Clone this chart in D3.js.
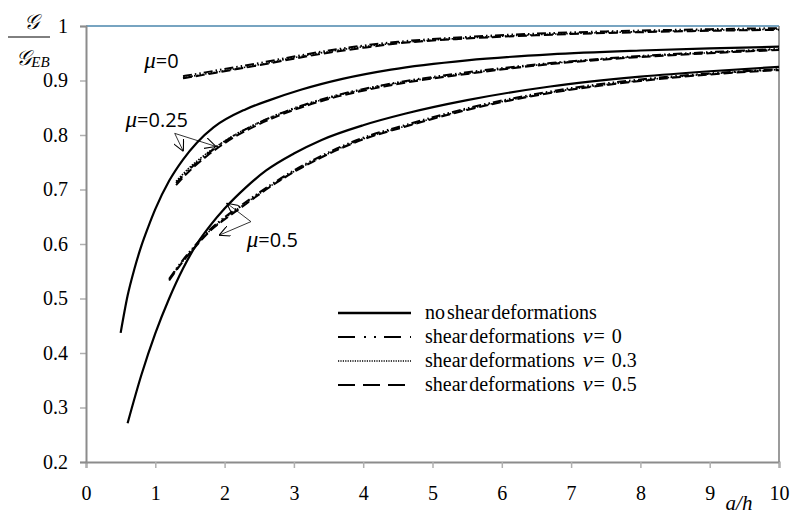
<!DOCTYPE html>
<html>
<head>
<meta charset="utf-8">
<script src="https://cdn.jsdelivr.net/npm/d3@7"></script>
<style>
  body { margin: 0; background: #fff; }
  svg { display: block; }
  .serif { font-family: "Liberation Serif", "Times New Roman", Times, serif; }
  .sans { font-family: "Open Sans", "Liberation Sans", Arial, sans-serif; }
</style>
</head>
<body>
<svg></svg>
<script>
const W = 792, H = 515;
const margin = { top: 26, right: 13, bottom: 53, left: 86 };

// no shear deformations (solid)
const xSolid25 = [0.5, 0.6, 0.7, 0.8, 0.9, 1.0, 1.2, 1.4, 1.6, 1.84, 2.3, 2.65, 3.1, 3.7, 4.4, 5.5, 6.7, 8, 9, 10];
const ySolid25 = [0.437, 0.505, 0.555, 0.597, 0.632, 0.664, 0.716, 0.755, 0.786, 0.814, 0.847, 0.864, 0.883, 0.903, 0.92, 0.937, 0.948, 0.955, 0.959, 0.962];
const xSolid50 = [0.6, 0.8, 1.0, 1.2, 1.4, 1.6, 1.8, 2.0, 2.3, 2.6, 3.0, 3.4, 4.0, 4.6, 5.5, 6.7, 8, 9, 10];
const ySolid50 = [0.271, 0.36, 0.436, 0.5, 0.555, 0.6, 0.635, 0.665, 0.703, 0.735, 0.766, 0.791, 0.818, 0.839, 0.864, 0.889, 0.907, 0.917, 0.925];

// shear deformations, mu = 0
const xShear0 = [1.4, 2, 2.5, 3, 3.5, 4, 4.5, 5.5, 6.5, 7.5, 8.5, 10];
const yShear0nu0 = [0.908, 0.921, 0.932, 0.944, 0.955, 0.964, 0.971, 0.980, 0.986, 0.990, 0.993, 0.996];
const yShear0nu3 = [0.905, 0.918, 0.929, 0.942, 0.953, 0.962, 0.969, 0.978, 0.984, 0.988, 0.991, 0.994];
const yShear0nu5 = [0.904, 0.917, 0.928, 0.940, 0.951, 0.960, 0.968, 0.977, 0.983, 0.987, 0.990, 0.993];

// shear deformations, mu = 0.25
const xShear25 = [1.3, 1.5, 1.75, 2, 2.5, 3, 3.5, 4.3, 5.5, 6.7, 8, 9, 10];
const yShear25nu0 = [0.712, 0.738, 0.765, 0.788, 0.823, 0.849, 0.869, 0.892, 0.915, 0.932, 0.945, 0.952, 0.958];
const yShear25nu3 = [0.715, 0.741, 0.767, 0.789, 0.823, 0.848, 0.868, 0.891, 0.913, 0.931, 0.944, 0.951, 0.957];
const yShear25nu5 = [0.708, 0.735, 0.762, 0.785, 0.820, 0.846, 0.866, 0.889, 0.912, 0.930, 0.943, 0.950, 0.956];

// shear deformations, mu = 0.5
const xShear50 = [1.2, 1.4, 1.6, 1.8, 2, 2.25, 2.6, 3, 3.4, 4, 4.6, 5.5, 6.7, 8, 9, 10];
const yShear50nu0 = [0.536, 0.571, 0.601, 0.628, 0.649, 0.672, 0.703, 0.735, 0.762, 0.795, 0.818, 0.849, 0.880, 0.902, 0.913, 0.921];
const yShear50nu3 = [0.535, 0.569, 0.599, 0.626, 0.647, 0.670, 0.701, 0.733, 0.760, 0.793, 0.816, 0.847, 0.878, 0.900, 0.912, 0.920];
const yShear50nu5 = [0.533, 0.568, 0.598, 0.625, 0.645, 0.668, 0.700, 0.732, 0.759, 0.792, 0.815, 0.846, 0.877, 0.899, 0.911, 0.919];

const xTicks = [0, 1, 2, 3, 4, 5, 6, 7, 8, 9, 10];
const yTicks = [0.2, 0.3, 0.4, 0.5, 0.6, 0.7, 0.8, 0.9, 1];
const legendLabels = ["no shear deformations", "shear deformations", "shear deformations", "shear deformations"];
const legendNu = [null, "0", "0.3", "0.5"];

const dashNu0 = "9,3,1.5,3,1.5,3";
const dashNu3 = "1.5,1.3";
const dashNu5 = "9,4";

const svg = d3.select("svg").attr("width", W).attr("height", H);

const x = d3.scaleLinear().domain([0, 10]).range([margin.left, W - margin.right]);
const y = d3.scaleLinear().domain([0.2, 1]).range([H - margin.bottom, margin.top]);

// frame
svg.append("line")
  .attr("x1", x(0)).attr("x2", x(10)).attr("y1", y(1)).attr("y2", y(1))
  .attr("stroke", "#4a86ad").attr("stroke-width", 1.5);
svg.append("line")
  .attr("x1", x(10)).attr("x2", x(10)).attr("y1", y(1)).attr("y2", y(0.2))
  .attr("stroke", "#7a7a7a").attr("stroke-width", 1.5);

// x axis
const xAxis = svg.append("g").attr("transform", `translate(0,${y(0.2)})`);
xAxis.call(d3.axisBottom(x).tickValues(d3.range(0.5, 10, 1)).tickSize(-5).tickFormat(""))
  .call(g => g.selectAll(".tick line").attr("stroke", "#b0b0b0"));
xAxis.call(d3.axisBottom(x).tickValues(xTicks).tickSize(6).tickFormat(d3.format("d")))
  .attr("font-family", null)
  .call(g => g.select(".domain").attr("stroke", "#8c8c8c").attr("stroke-width", 2))
  .call(g => g.selectAll(".tick line").attr("stroke", "#b0b0b0").attr("stroke-width", 1.5))
  .call(g => g.selectAll(".tick text")
    .attr("class", "serif")
    .attr("dy", "1.45em")
    .attr("font-size", 20).attr("fill", "#000"));

// y axis
const yAxis = svg.append("g").attr("transform", `translate(${x(0)},0)`);
yAxis.call(d3.axisLeft(y).tickValues(d3.range(0.25, 1, 0.1)).tickSize(-5).tickFormat(""))
  .call(g => g.selectAll(".tick line").attr("stroke", "#c0c0c0"));
yAxis.call(d3.axisLeft(y).tickValues(yTicks).tickSize(6).tickFormat(d => d === 1 ? "1" : d3.format(".1f")(d)))
  .attr("font-family", null)
  .call(g => g.select(".domain").attr("stroke", "#8c8c8c").attr("stroke-width", 2))
  .call(g => g.selectAll(".tick line").attr("stroke", "#b0b0b0").attr("stroke-width", 1.5))
  .call(g => g.selectAll(".tick text")
    .attr("class", "serif")
    .attr("x", -18)
    .attr("font-size", 20).attr("fill", "#000"));
yAxis.selectAll(".domain").raise();

// curves
const line = d3.line().x(d => x(d[0])).y(d => y(d[1])).curve(d3.curveMonotoneX);
const zipXY = (xs, ys) => xs.map((v, i) => [v, ys[i]]);

const series = [
  { xs: xSolid25, ys: ySolid25, dash: null, w: 2.2 },
  { xs: xSolid50, ys: ySolid50, dash: null, w: 2.2 },
  { xs: xShear0, ys: yShear0nu5, dash: dashNu5, w: 2 },
  { xs: xShear0, ys: yShear0nu3, dash: dashNu3, w: 1.6 },
  { xs: xShear0, ys: yShear0nu0, dash: dashNu0, w: 2 },
  { xs: xShear25, ys: yShear25nu5, dash: dashNu5, w: 2 },
  { xs: xShear25, ys: yShear25nu3, dash: dashNu3, w: 1.6 },
  { xs: xShear25, ys: yShear25nu0, dash: dashNu0, w: 2 },
  { xs: xShear50, ys: yShear50nu5, dash: dashNu5, w: 2 },
  { xs: xShear50, ys: yShear50nu3, dash: dashNu3, w: 1.6 },
  { xs: xShear50, ys: yShear50nu0, dash: dashNu0, w: 2 }
];

svg.append("g").selectAll("path")
  .data(series)
  .join("path")
  .attr("d", d => line(zipXY(d.xs, d.ys)))
  .attr("fill", "none")
  .attr("stroke", "#000")
  .attr("stroke-width", d => d.w)
  .attr("stroke-dasharray", d => d.dash);

// mu annotations
function muLabel(px, py, val) {
  const t = svg.append("text").attr("x", px).attr("y", py)
    .attr("class", "sans").attr("font-size", 20);
  t.append("tspan").text("μ").attr("class", "serif")
    .attr("font-style", "italic").attr("font-size", 23);
  t.append("tspan").text("=" + val);
}
muLabel(x(0.84), y(0.923), "0");
muLabel(x(0.57), y(0.815), "0.25");
muLabel(x(2.32), y(0.594), "0.5");

svg.append("defs").append("marker")
  .attr("id", "arr").attr("viewBox", "0 0 10 10").attr("refX", 10).attr("refY", 5)
  .attr("markerWidth", 11).attr("markerHeight", 11).attr("orient", "auto")
  .attr("markerUnits", "userSpaceOnUse")
  .append("path").attr("d", "M0,0 L10,5 L0,10").attr("fill", "none").attr("stroke", "#000").attr("stroke-width", 1);

// arrows: [origin x, origin value] -> [tip x, tip value]
const arrows = [
  [[1.28, 0.803], [1.405, 0.770]],
  [[1.28, 0.803], [1.875, 0.779]],
  [[2.38, 0.641], [2.03, 0.675]],
  [[2.38, 0.641], [1.92, 0.616]]
];
arrows.forEach(([a, b]) => {
  svg.append("line")
    .attr("x1", x(a[0])).attr("y1", y(a[1]))
    .attr("x2", x(b[0])).attr("y2", y(b[1]))
    .attr("stroke", "#000").attr("stroke-width", 0.8)
    .attr("marker-end", "url(#arr)");
});

// legend
const legend = svg.append("g");
const legendDash = [null, "17,9,2,8,2,8", "1.2,1.2", "17,8"];
const legendW = [2.6, 2.2, 1.4, 2.2];
legendLabels.forEach((lab, i) => {
  const ly = 313 + i * 24;
  legend.append("line")
    .attr("x1", 338).attr("x2", 411).attr("y1", ly).attr("y2", ly)
    .attr("stroke", "#000").attr("stroke-width", legendW[i])
    .attr("stroke-dasharray", legendDash[i]);
  const t = legend.append("text").attr("x", 425).attr("y", ly + 6)
    .attr("class", "serif").attr("font-size", 20);
  t.append("tspan").text(lab).attr("word-spacing", "-3px");
  if (legendNu[i] !== null) {
    t.append("tspan").text("ν").attr("dx", 8).attr("font-style", "italic").attr("font-size", 22);
    t.append("tspan").text("=").attr("dx", 1);
    t.append("tspan").text(legendNu[i]).attr("dx", 7);
  }
});

// axis titles
svg.append("text").attr("x", 739).attr("y", 510).attr("text-anchor", "middle")
  .attr("class", "serif").attr("font-size", 21).attr("font-style", "italic")
  .text("a/h");

svg.append("text").attr("x", 31).attr("y", 29).attr("text-anchor", "middle")
  .attr("class", "serif").attr("font-size", 21).attr("font-style", "italic")
  .text("𝒢");
svg.append("line").attr("x1", 8).attr("x2", 50).attr("y1", 37).attr("y2", 37)
  .attr("stroke", "#000").attr("stroke-width", 1);
const ge = svg.append("text").attr("x", 33).attr("y", 65).attr("text-anchor", "middle")
  .attr("class", "serif").attr("font-size", 21).attr("font-style", "italic");
ge.append("tspan").text("𝒢");
ge.append("tspan").text("EB").attr("font-size", 15).attr("dy", 2);
</script>
</body>
</html>
